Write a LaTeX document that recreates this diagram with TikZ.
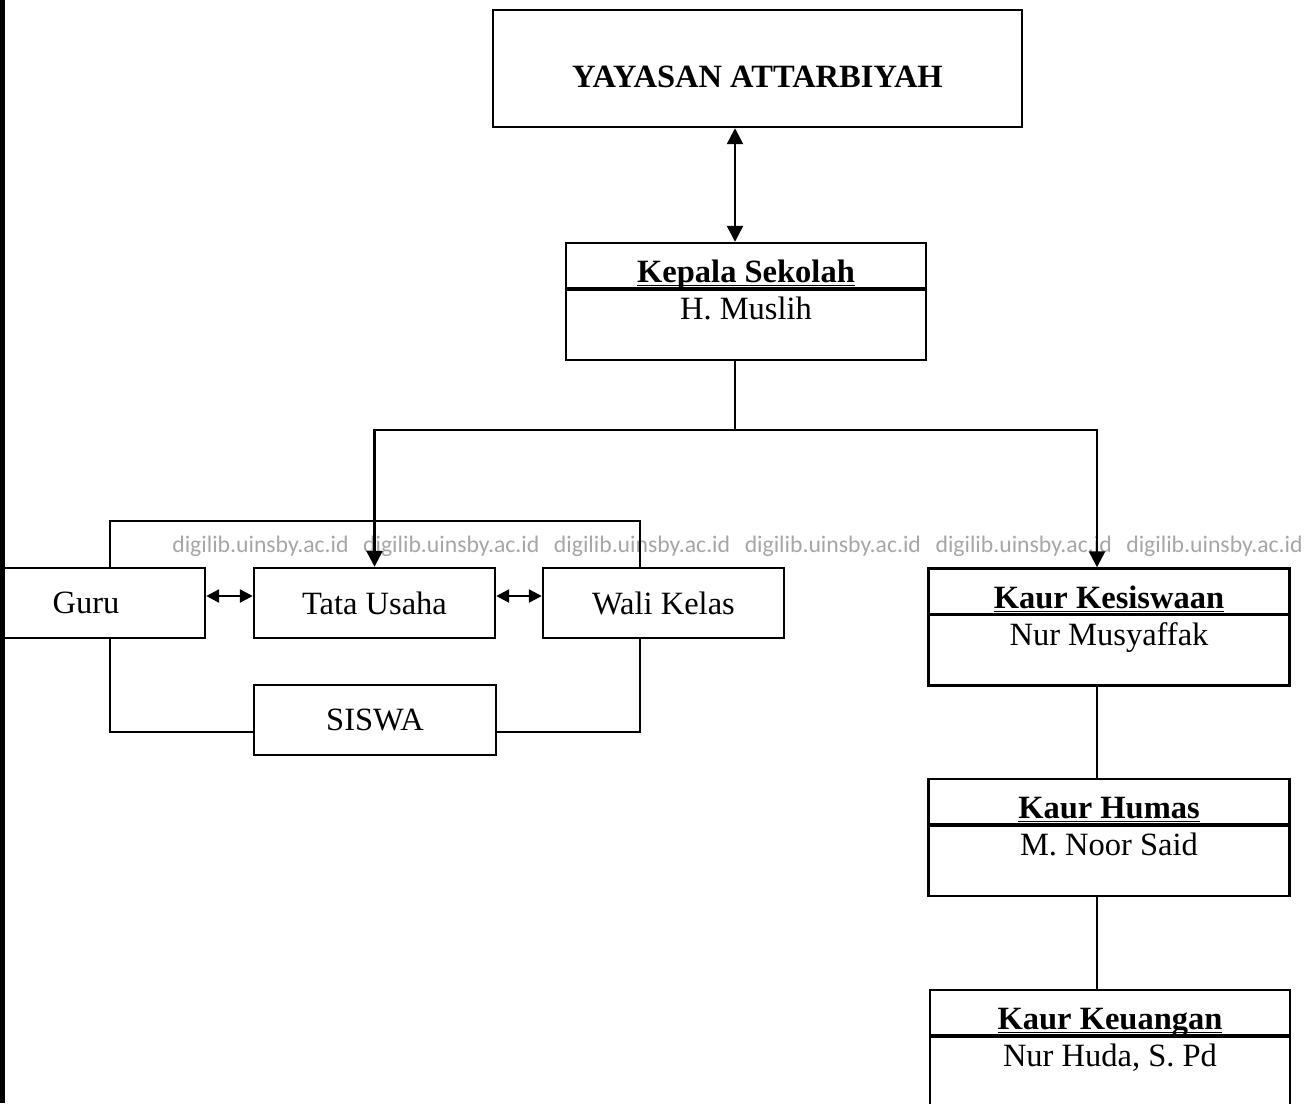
\documentclass[tikz,border=0pt]{standalone}
\usepackage{fontspec}
\setmainfont{Liberation Serif}
\newfontfamily\wmfont{Carlito}
\usetikzlibrary{arrows.meta,positioning,calc}
\definecolor{wmgrey}{HTML}{A6A6A6}

\begin{document}
\begin{tikzpicture}[x=0.02cm,y=-0.02cm,
every node/.style={font=\fontsize{18.5}{22}\selectfont},
box/.style={draw,line width=1.4pt,inner sep=0pt,minimum height=1.4cm,align=center},
headbox/.style={draw,line width=1.4pt,inner sep=0pt,minimum width=7.22cm,minimum height=2.34cm},
ttl/.style={inner sep=0pt,anchor=base,font=\fontsize{18.5}{22}\selectfont\bfseries},
who/.style={inner sep=0pt,anchor=base},
divline/.style={line width=2pt},
link/.style={line width=1.4pt},
arr/.style={link,-{Triangle[length=0.32cm,width=0.32cm]}},
dbl/.style={link,{Triangle[length=0.32cm,width=0.32cm]}-{Triangle[length=0.32cm,width=0.32cm]}},
sdbl/.style={link,{Triangle[length=0.26cm,width=0.26cm]}-{Triangle[length=0.26cm,width=0.26cm]}},
wm/.style={font=\wmfont\fontsize{13.5}{16}\selectfont,text=wmgrey,inner sep=0pt,anchor=base west}
]
\useasboundingbox (0,0) rectangle (1315,1103);
% scanned page edge
\draw[line width=3pt] (2,0) -- (2,1103);

% watermark
\foreach \i in {0,...,5}
  \node[wm] (wm\i) at (172+190.8*\i,552) {digilib.uinsby.ac.id};

\node[box,minimum width=10.58cm,minimum height=2.34cm] (yayasan) at (757.5,68.5) {};
\node[ttl] (yayasanT) at ($(yayasan.center)+(0,19)$) {YAYASAN ATTARBIYAH};

\node[headbox,minimum width=7.2cm] (kepsek) at (746,301.5) {};
\node[ttl] (kepsekT) at ($(kepsek.north)+(0,41)$) {\underline{\raisebox{0pt}[\height][0pt]{Kepala Sekolah}}};
\node[who] (kepsekN) at ($(kepsek.north)+(0,78)$) {H. Muslih};
\draw[divline] ($(kepsek.north west)+(0,47)$) -- ($(kepsek.north east)+(0,47)$);

\coordinate (ax) at (735,0);
\coordinate (bx) at (1097,0);
\coordinate (lx) at (110,0);
\coordinate (rx) at (640,0);
\draw[dbl] (yayasan.south -| ax) -- (kepsek.north -| ax);

% staff row
\node[box,minimum width=4.04cm] (guru) at (104,603) {\hspace*{-0.72cm}Guru};
\node[box,minimum width=4.82cm] (tata) at (374.5,603) {Tata Usaha};
\node[box,minimum width=4.82cm] (wali) at (663.5,603) {Wali Kelas};
\node[box,minimum width=4.84cm] (siswa) at (375,720) {SISWA};

\draw[sdbl] ($(guru.east)+(0,-7)$) -- ($(tata.west)+(0,-7)$);
\draw[sdbl] ($(tata.east)+(0,-7)$) -- ($(wali.west)+(0,-7)$);
\draw[link] (guru.north -| lx) -- ++(0,-46) -| (wali.north -| rx);
\draw[link] (guru.south -| lx) |- ($(siswa.west)+(0,12)$);
\draw[link] (wali.south -| rx) |- ($(siswa.east)+(0,12)$);

% kaur column
\node[headbox] (kesiswaan) at (1109,627) {};
\node[ttl] (kesiswaanT) at ($(kesiswaan.north)+(0,41)$) {\underline{Kaur Kesiswaan}};
\node[who] (kesiswaanN) at ($(kesiswaan.north)+(0,78)$) {Nur Musyaffak};
\draw[divline] ($(kesiswaan.north west)+(0,47)$) -- ($(kesiswaan.north east)+(0,47)$);

\node[headbox] (humas) at (1109,837.5) {};
\node[ttl] (humasT) at ($(humas.north)+(0,41)$) {\underline{Kaur Humas}};
\node[who] (humasN) at ($(humas.north)+(0,78)$) {M. Noor Said};
\draw[divline] ($(humas.north west)+(0,47)$) -- ($(humas.north east)+(0,47)$);

\node[headbox,minimum width=7.2cm] (keuangan) at (1110,1048.5) {};
\node[ttl] (keuanganT) at ($(keuangan.north)+(0,41)$) {\underline{\raisebox{0pt}[\height][0pt]{Kaur Keuangan}}};
\node[who] (keuanganN) at ($(keuangan.north)+(0,78)$) {Nur Huda, S. Pd};
\draw[divline] ($(keuangan.north west)+(0,47)$) -- ($(keuangan.north east)+(0,47)$);

% branches
\coordinate (split) at (735,430);
\draw[link] (kepsek.south -| ax) -- (split);
\draw[arr] (split) -| (tata.north);
\draw[arr] (split) -| (kesiswaan.north -| bx);
\draw[link] (kesiswaan.south -| bx) -- (humas.north -| bx);
\draw[link] (humas.south -| bx) -- (keuangan.north -| bx);
\end{tikzpicture}
\end{document}
